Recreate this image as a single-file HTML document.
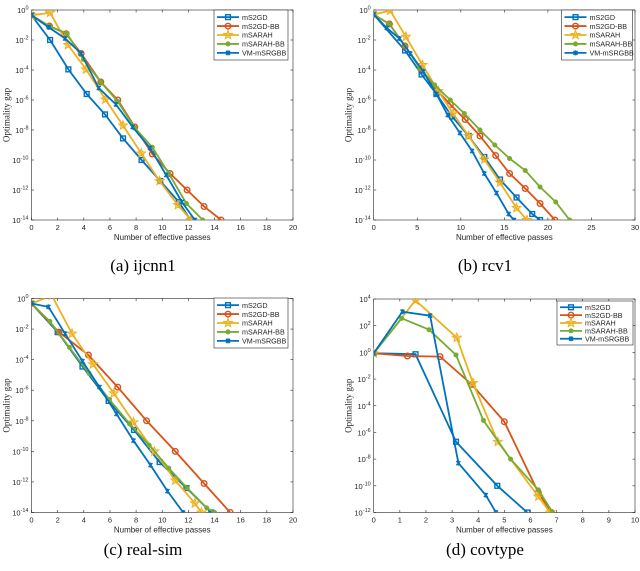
<!DOCTYPE html>
<html><head><meta charset="utf-8"><style>
body{margin:0;background:#fff;width:640px;height:571px;overflow:hidden}
svg{display:block}
text{font-family:"Liberation Sans",sans-serif}
.serif{font-family:"Liberation Serif",serif}
</style></head><body>
<svg id="chart" width="640" height="571" viewBox="0 0 640 571" xmlns="http://www.w3.org/2000/svg"></svg>
<script>
const seriesNames = ["mS2GD","mS2GD-BB","mSARAH","mSARAH-BB","VM-mSRGBB"];
const seriesColors = ["#0072BD","#D95319","#EDB120","#77AC30","#0072BD"];
const seriesMarkers = ["square","circle","star","dot","x"];

// panel a: ijcnn1 (x = passes, y = log10 gap)
const aX = [
 [0,1.42,2.82,4.22,5.62,7.0,8.42,9.85,11.27,12.16],
 [0,1.37,2.65,3.8,5.3,6.6,7.9,9.24,10.6,11.9,13.2,14.5],
 [0,1.42,2.8,4.17,5.65,7.0,8.4,9.8,11.2,12.2],
 [0,1.35,2.7,3.97,5.3,6.6,7.9,9.24,10.5,11.85,13.1],
 [0,1.32,2.57,3.8,5.14,6.46,7.73,9.06,10.3,11.5,12.5]];
const aY = [
 [-0.35,-2.0,-3.96,-5.6,-6.96,-8.56,-10,-11.4,-12.8,-14],
 [-0.35,-1.07,-1.58,-2.9,-4.8,-6.0,-7.8,-9.6,-10.9,-12,-13.1,-14],
 [-0.35,-0.18,-2.33,-3.96,-5.96,-7.7,-9.56,-11.4,-13.0,-14],
 [-0.35,-1.07,-1.56,-3.3,-4.8,-6.1,-7.85,-9.15,-10.9,-12.9,-14],
 [-0.35,-1.16,-1.9,-2.9,-5.2,-6.3,-7.8,-9.2,-11,-12.8,-14]];
// panel b: rcv1
const bX = [
 [0,3.6,5.5,7.2,9,10.9,12.7,14.5,16.4,18.2,19.1],
 [0,1.8,3.6,5.4,7.2,8.8,10.5,12.2,14,15.6,17.4,19.1,20.8],
 [0,1.9,3.7,5.6,7.4,9.1,10.9,12.7,14.5,16.4,17.6],
 [0,1.8,3.6,5.3,7.0,8.8,10.4,12.2,13.9,15.6,17.4,19.1,20.9,22.5],
 [0,1.5,2.95,4.2,5.7,7.2,8.5,9.9,11.3,12.7,14.1,15.5,16.1]];
const bY = [
 [-0.3,-2.7,-4.3,-5.6,-7.1,-8.4,-9.8,-11.3,-12.5,-13.6,-14],
 [-0.3,-0.93,-2.4,-3.9,-5.3,-6.3,-7.3,-8.4,-9.7,-10.9,-11.9,-12.9,-14],
 [-0.3,-0.04,-1.78,-3.67,-5.4,-6.9,-8.4,-9.96,-11.5,-13.2,-14],
 [-0.3,-0.93,-2.4,-3.9,-5.0,-6.0,-6.9,-8.0,-9.0,-9.9,-10.7,-11.8,-12.8,-14],
 [-0.3,-1.2,-1.9,-2.9,-4.1,-5.6,-7.0,-8.2,-9.4,-10.9,-12.2,-13.6,-14]];
// panel c: real-sim
const cX = [
 [0,2.0,3.9,5.9,7.84,9.8,11.85,13.75],
 [0,2.1,4.35,6.6,8.8,11,13.2,15.2],
 [0,1.55,3.1,4.7,6.3,7.8,9.4,11,12.5,13.0],
 [0,1.4,2.9,4.4,5.95,7.5,9,10.5,11.9,13.4,14.0],
 [0,1.3,2.57,3.9,5.2,6.5,7.8,9.1,10.4,11.6]];
const cY = [
 [-0.33,-2.2,-4.45,-6.7,-8.6,-10.7,-12.4,-14],
 [-0.33,-2.2,-3.7,-5.8,-8,-10,-12.1,-14],
 [-0.33,0.2,-2.3,-4.3,-6.2,-8.1,-10,-11.9,-13.4,-14],
 [-0.33,-1.5,-3.2,-4.9,-6.6,-8.2,-9.6,-11.1,-12.4,-13.7,-14],
 [-0.33,-0.55,-2.3,-4.1,-5.8,-7.55,-9.3,-10.9,-12.6,-14]];
// panel d: covtype
const dX = [
 [0,1.6,3.15,4.73,5.88],
 [0,1.29,2.54,3.75,5.0,6.3,6.8],
 [0,1.6,3.18,3.8,4.75,6.3,6.75],
 [0,1.07,2.12,3.15,4.2,5.24,6.3,6.85],
 [0,1.1,2.16,3.24,4.29,4.68]];
const dY = [
 [-0.07,-0.14,-6.7,-10,-12],
 [-0.07,-0.27,-0.32,-2.4,-5.2,-10.5,-12],
 [-0.07,3.9,1.1,-2.3,-6.7,-10.8,-12],
 [-0.07,2.55,1.7,-0.2,-5.1,-8,-10.3,-12],
 [-0.07,3.05,2.75,-8.3,-10.7,-12]];
const aXTicks=[0,2,4,6,8,10,12,14,16,18,20], bXTicks=[0,5,10,15,20,25,30], dXTicks=[0,1,2,3,4,5,6,7,8,9,10];
const abcYTicks=[0,-2,-4,-6,-8,-10,-12,-14], dYTicks=[4,2,0,-2,-4,-6,-8,-10,-12];
const captions=["(a)  ijcnn1","(b)  rcv1","(c)  real-sim","(d)  covtype"];

const NS="http://www.w3.org/2000/svg";
const svg=document.getElementById('chart');
function mk(tag,attrs,parent){const e=document.createElementNS(NS,tag);for(const k in attrs)e.setAttribute(k,attrs[k]);(parent||svg).appendChild(e);return e;}

function marker(g,type,x,y,col){
  let m;
  if(type==="square") m=mk('rect',{x:x-2.4,y:y-2.4,width:4.8,height:4.8,fill:'none',stroke:col,'stroke-width':1.4},g);
  else if(type==="circle") m=mk('circle',{cx:x,cy:y,r:2.8,fill:'none',stroke:col,'stroke-width':1.4},g);
  else if(type==="dot") m=mk('circle',{cx:x,cy:y,r:2.5,fill:col},g);
  else if(type==="x") m=mk('path',{d:`M${x-2} ${y-2}L${x+2} ${y+2}M${x-2} ${y+2}L${x+2} ${y-2}M${x} ${y-2.5}L${x} ${y+2.5}`,stroke:col,'stroke-width':1.4},g);
  else {let p=[];for(let i=0;i<10;i++){const r=i%2?2:4.6,a=-Math.PI/2+i*Math.PI/5;p.push((x+r*Math.cos(a)).toFixed(1)+','+(y+r*Math.sin(a)).toFixed(1));}
    m=mk('polygon',{points:p.join(' '),fill:col,'fill-opacity':0.5,stroke:col,'stroke-width':1},g);}
  
  
}

function panel(id,L,R,T,B,xmax,ymax,ymin,xt,yt,XS,YS,leg,cap,capX,capY){
  const g=mk('g',{});
  
  
  const sx=v=>L+(v/xmax)*(R-L), sy=v=>T+(ymax-v)/(ymax-ymin)*(B-T);
  const cp=mk('clipPath',{id:'clip'+id},g); mk('rect',{x:L,y:T,width:R-L,height:B-T},cp);
  mk('rect',{x:L,y:T,width:R-L,height:B-T,fill:'#fff',stroke:'#262626','stroke-width':0.6},g);
  xt.forEach(v=>{const x=sx(v);
    mk('line',{x1:x,y1:B,x2:x,y2:B-2.5,stroke:'#262626','stroke-width':0.6},g);
    mk('line',{x1:x,y1:T,x2:x,y2:T+2.5,stroke:'#262626','stroke-width':0.6},g);
    const t=mk('text',{x:x,y:B+10,'font-size':7.5,'text-anchor':'middle',fill:'#262626'},g);t.textContent=v;
    });
  yt.forEach(v=>{const y=sy(v);
    mk('line',{x1:L,y1:y,x2:L+2.5,y2:y,stroke:'#262626','stroke-width':0.6},g);
    mk('line',{x1:R,y1:y,x2:R-2.5,y2:y,stroke:'#262626','stroke-width':0.6},g);
    const t=mk('text',{x:L-3,y:y+3,'font-size':7.5,'text-anchor':'end',fill:'#262626'},g);
    
    const a=mk('tspan',{},t);a.textContent='10';const b=mk('tspan',{dy:-3.5,'font-size':5.5},t);b.textContent=String(v);});
  const xl=mk('text',{x:(L+R)/2,y:B+20,'font-size':8,'text-anchor':'middle',fill:'#262626'},g);xl.textContent='Number of effective passes';
  
  const yl=mk('text',{x:0,y:0,'font-size':9,'text-anchor':'middle',fill:'#262626',class:'serif',transform:`translate(${L-22},${(T+B)/2}) rotate(-90)`},g);yl.textContent='Optimality gap';
  
  const pg=mk('g',{'clip-path':`url(#clip${id})`},g);
  for(let s=0;s<5;s++){
    const pts=XS[s].map((v,i)=>sx(v).toFixed(1)+','+sy(YS[s][i]).toFixed(1)).join(' ');
    const ln=mk('polyline',{points:pts,fill:'none',stroke:seriesColors[s],'stroke-width':1.8},pg);
    
    
    XS[s].forEach((v,i)=>marker(pg,seriesMarkers[s],sx(v),sy(YS[s][i]),seriesColors[s]));
  }
  const lg=mk('g',{},g);
  
  
  mk('rect',{x:leg[0],y:leg[1],width:leg[2],height:leg[3],fill:'#fff',stroke:'#262626','stroke-width':0.6},lg);
  const dy=leg[3]/5.6;
  for(let s=0;s<5;s++){const y=leg[1]+dy*(s+0.8);
    const le=mk('g',{},lg);
    
    
    mk('line',{x1:leg[0]+3,y1:y,x2:leg[0]+25,y2:y,stroke:seriesColors[s],'stroke-width':1.8},le);
    marker(le,seriesMarkers[s],leg[0]+14,y,seriesColors[s]);
    const t=mk('text',{x:leg[0]+28,y:y+2.7,'font-size':7.2,fill:'#262626'},le);t.textContent=seriesNames[s];}
  const c=mk('text',{x:capX,y:capY,'font-size':17,'text-anchor':'middle',fill:'#000',class:'serif'},g);c.textContent=cap;
  
}
panel('a',31.5,293,10,220,20,0,-14,aXTicks,abcYTicks,aX,aY,[214,10,74,50],captions[0],143,271);
panel('b',373.7,635,10,220,30,0,-14,bXTicks,abcYTicks,bX,bY,[561.5,10,71,50],captions[1],485,271);
panel('c',31.5,293,298.5,512.5,20,0,-14,aXTicks,abcYTicks,cX,cY,[214,298,74,50],captions[2],143,555);
panel('d',373.7,635,299,512.5,10,4,-12,dXTicks,dYTicks,dX,dY,[557,301,76,44],captions[3],485,555);
</script>
</body></html>
